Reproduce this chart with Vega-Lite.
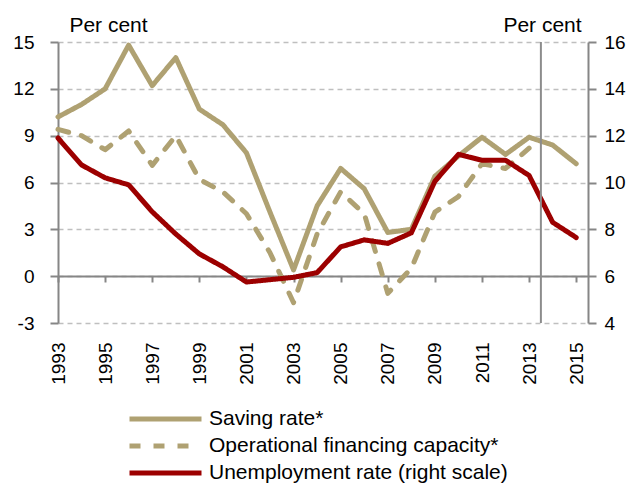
{
  "$schema": "https://vega.github.io/schema/vega-lite/v6.json",
  "width": 530,
  "height": 281,
  "autosize": {"type": "none"},
  "padding": {"left": 58, "top": 42, "right": 52, "bottom": 160},
  "background": "white",
  "config": {
    "font": "Liberation Sans",
    "view": {"stroke": null},
    "legend": {
      "orient": "none",
      "legendX": 69,
      "legendY": 363.5,
      "direction": "vertical",
      "title": null,
      "symbolType": "stroke",
      "symbolSize": 5184,
      "symbolStrokeWidth": 5,
      "labelFontSize": 21,
      "labelColor": "#000000",
      "labelOffset": 5,
      "clipHeight": 27,
      "rowPadding": 0,
      "labelLimit": 500
    }
  },
  "datasets": {
    "series": [
      {"year": 1993, "series": "Saving rate*", "value": 10.2},
      {"year": 1994, "series": "Saving rate*", "value": 11.0},
      {"year": 1995, "series": "Saving rate*", "value": 12.0},
      {"year": 1996, "series": "Saving rate*", "value": 14.8},
      {"year": 1997, "series": "Saving rate*", "value": 12.2},
      {"year": 1998, "series": "Saving rate*", "value": 14.0},
      {"year": 1999, "series": "Saving rate*", "value": 10.7},
      {"year": 2000, "series": "Saving rate*", "value": 9.7},
      {"year": 2001, "series": "Saving rate*", "value": 7.9},
      {"year": 2002, "series": "Saving rate*", "value": 4.1},
      {"year": 2003, "series": "Saving rate*", "value": 0.4},
      {"year": 2004, "series": "Saving rate*", "value": 4.5},
      {"year": 2005, "series": "Saving rate*", "value": 6.9},
      {"year": 2006, "series": "Saving rate*", "value": 5.6},
      {"year": 2007, "series": "Saving rate*", "value": 2.8},
      {"year": 2008, "series": "Saving rate*", "value": 3.0},
      {"year": 2009, "series": "Saving rate*", "value": 6.4},
      {"year": 2010, "series": "Saving rate*", "value": 7.7},
      {"year": 2011, "series": "Saving rate*", "value": 8.9},
      {"year": 2012, "series": "Saving rate*", "value": 7.8},
      {"year": 2013, "series": "Saving rate*", "value": 8.9},
      {"year": 2014, "series": "Saving rate*", "value": 8.4},
      {"year": 2015, "series": "Saving rate*", "value": 7.2},
      {"year": 1993, "series": "Operational financing capacity*", "value": 9.4},
      {"year": 1994, "series": "Operational financing capacity*", "value": 9.0},
      {"year": 1995, "series": "Operational financing capacity*", "value": 8.1},
      {"year": 1996, "series": "Operational financing capacity*", "value": 9.3},
      {"year": 1997, "series": "Operational financing capacity*", "value": 7.1},
      {"year": 1998, "series": "Operational financing capacity*", "value": 9.0},
      {"year": 1999, "series": "Operational financing capacity*", "value": 6.2},
      {"year": 2000, "series": "Operational financing capacity*", "value": 5.4},
      {"year": 2001, "series": "Operational financing capacity*", "value": 4.0},
      {"year": 2002, "series": "Operational financing capacity*", "value": 1.5},
      {"year": 2003, "series": "Operational financing capacity*", "value": -1.7},
      {"year": 2004, "series": "Operational financing capacity*", "value": 2.7},
      {"year": 2005, "series": "Operational financing capacity*", "value": 5.4},
      {"year": 2006, "series": "Operational financing capacity*", "value": 4.0},
      {"year": 2007, "series": "Operational financing capacity*", "value": -1.1},
      {"year": 2008, "series": "Operational financing capacity*", "value": 0.5},
      {"year": 2009, "series": "Operational financing capacity*", "value": 4.1},
      {"year": 2010, "series": "Operational financing capacity*", "value": 5.1},
      {"year": 2011, "series": "Operational financing capacity*", "value": 7.2},
      {"year": 2012, "series": "Operational financing capacity*", "value": 6.9},
      {"year": 2013, "series": "Operational financing capacity*", "value": 8.2},
      {"year": 1993, "series": "Unemployment rate (right scale)", "value": 11.9},
      {"year": 1994, "series": "Unemployment rate (right scale)", "value": 10.75},
      {"year": 1995, "series": "Unemployment rate (right scale)", "value": 10.2},
      {"year": 1996, "series": "Unemployment rate (right scale)", "value": 9.9},
      {"year": 1997, "series": "Unemployment rate (right scale)", "value": 8.75},
      {"year": 1998, "series": "Unemployment rate (right scale)", "value": 7.8},
      {"year": 1999, "series": "Unemployment rate (right scale)", "value": 6.95},
      {"year": 2000, "series": "Unemployment rate (right scale)", "value": 6.4},
      {"year": 2001, "series": "Unemployment rate (right scale)", "value": 5.75},
      {"year": 2002, "series": "Unemployment rate (right scale)", "value": 5.85},
      {"year": 2003, "series": "Unemployment rate (right scale)", "value": 5.95},
      {"year": 2004, "series": "Unemployment rate (right scale)", "value": 6.15},
      {"year": 2005, "series": "Unemployment rate (right scale)", "value": 7.25},
      {"year": 2006, "series": "Unemployment rate (right scale)", "value": 7.55},
      {"year": 2007, "series": "Unemployment rate (right scale)", "value": 7.4},
      {"year": 2008, "series": "Unemployment rate (right scale)", "value": 7.85},
      {"year": 2009, "series": "Unemployment rate (right scale)", "value": 10.05},
      {"year": 2010, "series": "Unemployment rate (right scale)", "value": 11.2},
      {"year": 2011, "series": "Unemployment rate (right scale)", "value": 10.95},
      {"year": 2012, "series": "Unemployment rate (right scale)", "value": 10.95},
      {"year": 2013, "series": "Unemployment rate (right scale)", "value": 10.3},
      {"year": 2014, "series": "Unemployment rate (right scale)", "value": 8.3},
      {"year": 2015, "series": "Unemployment rate (right scale)", "value": 7.65}
    ],
    "marker": [{"year": 2013.5}]
  },
  "layer": [
    {
      "data": {"name": "series"},
      "transform": [{"filter": "datum.series !== 'Unemployment rate (right scale)'"}],
      "mark": {"type": "line", "strokeWidth": 5, "strokeCap": "round", "strokeJoin": "round", "clip": false},
      "encoding": {
        "x": {
          "field": "year", "type": "quantitative",
          "scale": {"domain": [1993, 2015.5], "nice": false, "zero": false},
          "axis": {
            "title": null,
            "orient": "bottom",
            "offset": -47,
            "values": [1993, 1995, 1997, 1999, 2001, 2003, 2005, 2007, 2009, 2011, 2013, 2015],
            "format": "d",
            "labelAngle": -90,
            "labelFontSize": 19,
            "labelColor": "#000000",
            "labelPadding": 60,
            "labelAlign": "right",
            "labelBaseline": "middle",
            "tickSize": 6,
            "tickWidth": 2,
            "tickColor": "#868686",
            "domainColor": "#868686",
            "domainWidth": 2,
            "grid": false,
            "labelOverlap": false,
            "labelFlush": false
          }
        },
        "y": {
          "field": "value", "type": "quantitative",
          "scale": {"domain": [-3, 15], "nice": false, "zero": false},
          "axis": {
            "orient": "left",
            "values": [-3, 0, 3, 6, 9, 12, 15],
            "labelExpr": "'' + datum.value",
            "grid": true,
            "gridDash": [5, 4],
            "gridColor": "#BFBFBF",
            "gridWidth": 1.5,
            "domainColor": "#868686",
            "domainWidth": 2,
            "tickColor": "#868686",
            "tickWidth": 2,
            "tickSize": 8,
            "labelFontSize": 19,
            "labelColor": "#000000",
            "labelPadding": 16,
            "title": "Per cent",
            "titleAngle": 0,
            "titleX": 50,
            "titleY": -17,
            "titleAlign": "center",
            "titleBaseline": "middle",
            "titleFontSize": 21,
            "titleFontWeight": "normal",
            "titleColor": "#000000"
          }
        },
        "color": {
          "field": "series", "type": "nominal",
          "scale": {
            "domain": ["Saving rate*", "Operational financing capacity*", "Unemployment rate (right scale)"],
            "range": ["#AFA172", "#AFA172", "#9C0000"]
          }
        },
        "strokeDash": {
          "field": "series", "type": "nominal",
          "scale": {
            "domain": ["Saving rate*", "Operational financing capacity*", "Unemployment rate (right scale)"],
            "range": [[1, 0], [11, 13], [1, 0]]
          }
        }
      }
    },
    {
      "data": {"name": "series"},
      "transform": [{"filter": "datum.series === 'Unemployment rate (right scale)'"}],
      "mark": {"type": "line", "strokeWidth": 5, "strokeCap": "round", "strokeJoin": "round", "clip": false},
      "encoding": {
        "x": {"field": "year", "type": "quantitative"},
        "y": {
          "field": "value", "type": "quantitative",
          "scale": {"domain": [4, 16], "nice": false, "zero": false},
          "axis": {
            "orient": "right",
            "values": [4, 6, 8, 10, 12, 14, 16],
            "grid": false,
            "domainColor": "#868686",
            "domainWidth": 2,
            "tickColor": "#868686",
            "tickWidth": 2,
            "tickSize": 8,
            "labelFontSize": 19,
            "labelColor": "#000000",
            "labelPadding": 8,
            "title": "Per cent",
            "titleAngle": 0,
            "titleX": -46,
            "titleY": -17,
            "titleAlign": "center",
            "titleBaseline": "middle",
            "titleFontSize": 21,
            "titleFontWeight": "normal",
            "titleColor": "#000000"
          }
        },
        "color": {"field": "series", "type": "nominal"},
        "strokeDash": {"field": "series", "type": "nominal"}
      }
    },
    {
      "data": {"name": "marker"},
      "mark": {"type": "rule", "color": "#8C8C8C", "strokeWidth": 2},
      "encoding": {
        "x": {"field": "year", "type": "quantitative"}
      }
    }
  ],
  "resolve": {"scale": {"y": "independent"}, "axis": {"y": "independent"}}
}
